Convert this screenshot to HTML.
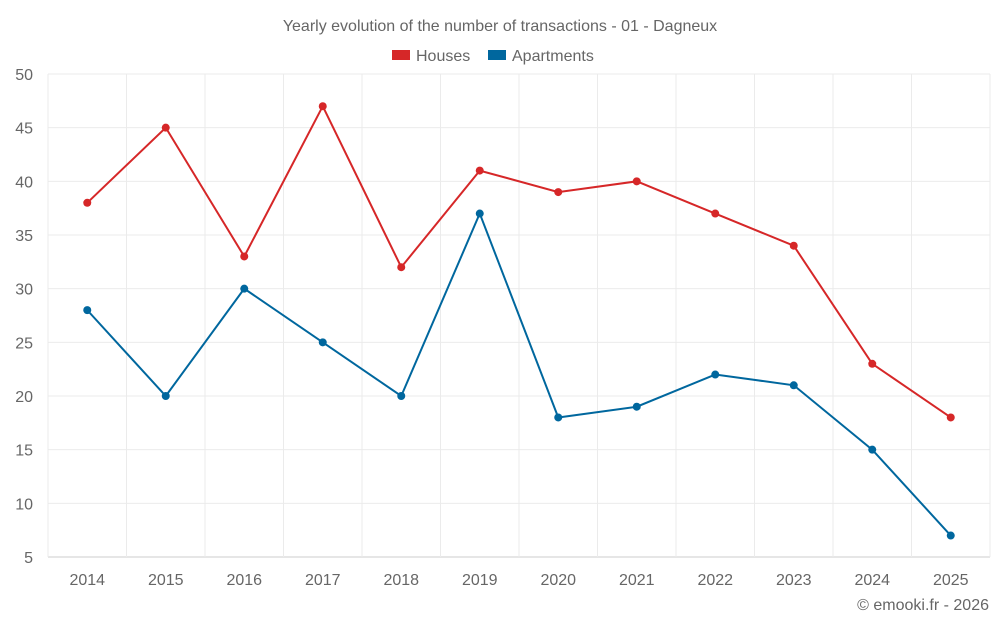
<!DOCTYPE html>
<html><head><meta charset="utf-8"><style>
body{margin:0;background:#fff;font-family:"Liberation Sans",sans-serif;}
svg text{font-family:"Liberation Sans",sans-serif;fill:#666;}
</style></head><body>
<svg id="chart" width="1000" height="625">
<text x="500" y="31" text-anchor="middle" font-size="16">Yearly evolution of the number of transactions - 01 - Dagneux</text>
<g>
<g><rect x="392" y="50" width="18" height="10" fill="#d62728"/><text x="416" y="61" font-size="16">Houses</text></g>
<g><rect x="488" y="50" width="18" height="10" fill="#00679e"/><text x="512" y="61" font-size="16">Apartments</text></g>
</g>
<g id="grid"></g><g id="axes"></g><g id="series"></g>
<text x="989" y="610" text-anchor="end" font-size="16">© emooki.fr - 2026</text>
</svg>
<script>
const years=["2014","2015","2016","2017","2018","2019","2020","2021","2022","2023","2024","2025"];
const houses=[38,45,33,47,32,41,39,40,37,34,23,18];
const apartments=[28,20,30,25,20,37,18,19,22,21,15,7];
const yTicks=[5,10,15,20,25,30,35,40,45,50];
const L=48,R=990,T=74,B=557,yMin=5,yMax=50;
const bw=(R-L)/years.length;
const x=i=>L+bw*(i+0.5);
const y=v=>B-(v-yMin)/(yMax-yMin)*(B-T);
const NS="http://www.w3.org/2000/svg";
function mk(t,a,p){const e=document.createElementNS(NS,t);for(const k in a)e.setAttribute(k,a[k]);p.appendChild(e);return e;}
const grid=document.getElementById('grid'),axes=document.getElementById('axes'),ser=document.getElementById('series');
yTicks.forEach(v=>{
const l=mk('line',{x1:L,x2:R,y1:y(v),y2:y(v),stroke:v===yMin?'#ccc':'#ebebeb'},grid);


const t=mk('text',{x:33,y:y(v)+6,'text-anchor':'end','font-size':16},axes);t.textContent=v;


});
for(let i=0;i<=years.length;i++){
const l=mk('line',{x1:L+bw*i,x2:L+bw*i,y1:T,y2:B+(i>0&&i<years.length?0:0),stroke:'#ebebeb'},grid);


}
years.forEach((yr,i)=>{
const t=mk('text',{x:x(i),y:585,'text-anchor':'middle','font-size':16},axes);t.textContent=yr;


});
[[houses,'#d62728','houses'],[apartments,'#00679e','apartments']].forEach(([d,c,n])=>{
const p=mk('polyline',{points:d.map((v,i)=>x(i)+','+y(v)).join(' '),fill:'none',stroke:c,'stroke-width':2},ser);


d.forEach((v,i)=>{
const ci=mk('circle',{cx:x(i),cy:y(v),r:4,fill:c},ser);


});
});
</script>
</body></html>
